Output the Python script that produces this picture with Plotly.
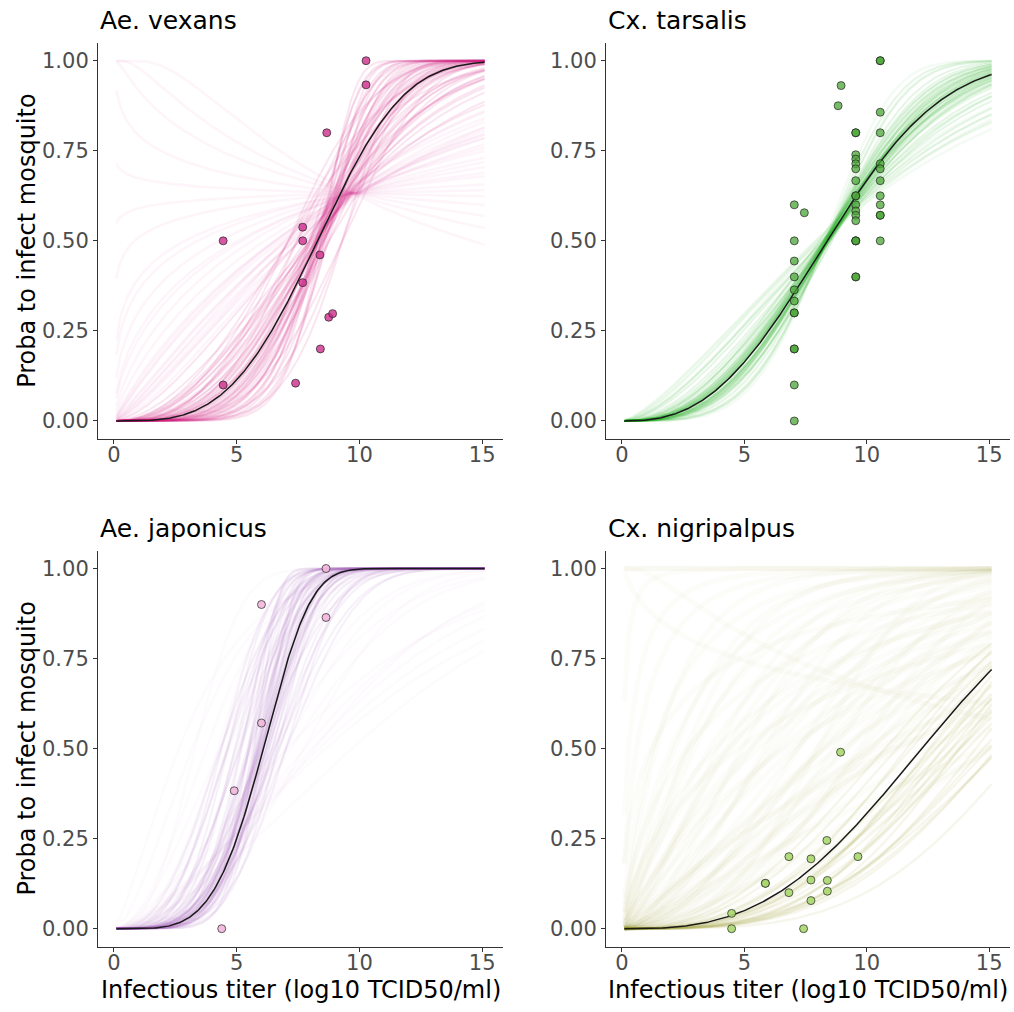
import numpy as np
import plotly.graph_objects as go

# ---------------- data ----------------
PANEL_TITLES = ["Ae. vexans", "Cx. tarsalis", "Ae. japonicus", "Cx. nigripalpus"]
X_TICKS = [0, 5, 10, 15]
Y_TICKS = [0, 0.25, 0.5, 0.75, 1.0]
Y_TICK_LABELS = ["0.00", "0.25", "0.50", "0.75", "1.00"]
X_LABEL = "Infectious titer (log10 TCID50/ml)"
Y_LABEL = "Proba to infect mosquito"
TITER_MIN, TITER_MAX = 0.1, 15.1

# observed proportions
vexans_x = [4.45, 4.45, 7.69, 7.69, 7.69, 7.40, 8.39, 8.41, 8.67, 8.75, 8.91, 10.27, 10.27]
vexans_y = [0.50, 0.10, 0.538, 0.50, 0.384, 0.105, 0.461, 0.20, 0.80, 0.288, 0.298, 1.00, 0.933]

tarsalis_x = [7.04] * 12 + [7.45, 8.83, 8.95] + [9.55] * 18 + [10.55] * 12
tarsalis_y = ([0.60, 0.50, 0.444, 0.40, 0.364, 0.333, 0.30, 0.30, 0.20, 0.20, 0.10, 0.0]
              + [0.578, 0.875, 0.931]
              + [0.80, 0.80, 0.739, 0.727, 0.714, 0.70, 0.667, 0.625, 0.625, 0.60, 0.583,
                 0.571, 0.556, 0.50, 0.50, 0.50, 0.40, 0.40]
              + [1.0, 1.0, 0.857, 0.80, 0.714, 0.70, 0.667, 0.625, 0.60, 0.571, 0.571, 0.50])

japonicus_x = [8.64, 6.01, 8.64, 6.01, 4.90, 4.39]
japonicus_y = [1.00, 0.90, 0.864, 0.571, 0.383, 0.0]

nigripalpus_x = [8.93, 8.37, 6.82, 7.72, 9.64, 5.86, 5.86, 7.72, 8.39, 6.82, 8.39, 7.72, 4.48, 4.48, 7.42]
nigripalpus_y = [0.49, 0.245, 0.20, 0.194, 0.20, 0.126, 0.126, 0.135, 0.134, 0.10, 0.104, 0.078, 0.0425, 0.0, 0.0]

# fitted dose-response (Weibull) : mean parameters (scale, shape)
vexans_fit = (9.22, 3.45)
tarsalis_fit = (9.63, 2.63)
japonicus_fit = (6.60, 4.50)
nigripalpus_fit = (13.9, 2.90)

# posterior draws (scale, shape)
vexans_core_scale = [9.2, 9.0, 9.4, 8.9, 9.5, 9.1, 8.8, 9.6, 9.3, 8.7, 9.0, 9.7, 9.4, 9.1, 8.9, 9.6, 9.8, 9.3,
                     8.6, 9.9, 9.5, 9.2, 8.8, 9.0, 9.15, 9.35, 9.05, 9.45, 8.95, 9.25, 9.55, 8.85, 9.65, 9.1,
                     9.3, 9.0, 9.4, 9.2, 8.75, 9.5, 9.6, 9.7, 9.05, 9.25, 8.9, 9.35, 9.45, 9.15,
                     8.2, 8.0, 8.4, 8.5, 10.0, 10.2, 9.9, 8.3]
vexans_core_shape = [3.4, 3.0, 3.8, 4.2, 2.8, 5.0, 5.5, 2.4, 4.5, 6.5, 7.5, 2.0, 3.2, 2.6, 3.6, 4.0, 1.8, 5.8,
                     4.8, 3.0, 1.6, 2.2, 8.5, 4.0, 3.3, 3.9, 4.4, 2.9, 5.2, 3.5, 2.5, 6.0, 2.2, 3.7,
                     4.7, 4.6, 2.7, 3.1, 7.0, 3.4, 2.1, 2.6, 5.6, 4.1, 3.3, 2.3, 3.6, 6.8,
                     2.5, 3.0, 2.2, 2.8, 5.0, 4.0, 6.0, 3.4]
vexans_tail_scale = [9.7, 9.8, 9.7, 9.6, 9.7, 9.8, 9.7, 9.7, 9.6, 9.7, 9.8, 9.7, 9.6, 9.9, 10.0, 9.5, 9.7,
                     9.4, 9.9, 9.6, 9.8, 9.5, 9.7, 10.1, 9.3, 9.6]
vexans_tail_shape = [1.3, 1.0, 0.8, 0.6, 0.45, 0.3, 0.15, 0.05, -0.05, -0.2, -0.4, -0.6, 1.15, 0.9, 1.2, 0.7,
                     -0.9, 1.4, 1.1, 1.5, 0.55, 1.0, 0.35, 1.3, 1.25, 0.95]

tarsalis_core_scale = [9.6, 9.5, 9.7, 9.4, 9.8, 9.3, 9.9, 9.6, 9.5, 9.7, 9.2, 10.0, 9.45, 9.75, 9.55, 10.1,
                       9.35, 9.65, 9.9, 9.1, 9.6, 9.8, 10.2, 9.5, 9.7, 9.4, 9.55, 9.65, 9.45, 9.75, 9.6,
                       9.85, 9.35, 9.5, 9.7, 9.6, 9.9, 9.4, 9.8, 9.55, 9.65, 10.05, 9.3]
tarsalis_core_shape = [2.6, 2.9, 2.4, 3.2, 2.2, 3.5, 2.0, 2.8, 2.5, 2.7, 3.8, 1.9, 3.0, 2.3, 2.65, 1.75,
                       3.3, 2.5, 2.1, 4.0, 3.1, 2.45, 1.65, 2.2, 3.0, 2.7, 2.55, 2.75, 2.85, 2.5, 2.35,
                       2.3, 2.95, 2.6, 2.6, 2.9, 2.35, 3.05, 2.55, 2.45, 2.8, 2.05, 3.1]
tarsalis_tail_scale = [10.3, 10.5, 10.0, 9.9, 10.4, 9.0, 10.2, 9.2]
tarsalis_tail_shape = [1.5, 1.4, 1.55, 1.7, 1.6, 4.3, 1.45, 3.9]

japonicus_core_scale = [6.6, 6.4, 6.8, 6.2, 7.0, 6.5, 6.0, 7.2, 6.3, 6.9, 5.9, 6.7, 7.4, 6.1, 6.6, 5.8, 7.1,
                        6.4, 6.0, 6.8, 5.6, 7.5, 6.5, 6.2, 6.55, 6.35, 6.75, 6.45, 6.65, 6.25, 6.85, 6.15,
                        6.95, 6.5, 6.7, 6.3, 6.6, 6.4, 7.3, 5.95, 6.05,
                        5.5, 5.2, 5.0, 5.4, 5.7, 4.9, 5.3, 5.8, 7.6, 7.8, 5.6, 5.1]
japonicus_core_shape = [4.5, 4.0, 5.0, 4.8, 4.2, 5.5, 4.3, 3.8, 6.0, 3.6, 5.2, 4.8, 4.0, 3.6, 3.4, 6.5, 5.5,
                        7.0, 8.0, 3.0, 4.5, 3.2, 3.9, 5.8, 4.6, 4.4, 4.1, 5.1, 3.9, 4.9, 4.4, 3.7,
                        5.0, 4.2, 4.7, 5.3, 3.8, 4.3, 3.5, 4.0, 5.6,
                        3.5, 3.0, 2.6, 4.0, 3.2, 3.3, 2.8, 3.0, 4.5, 3.5, 5.0, 3.8]
japonicus_tail_scale = [8.5, 9.5, 10.5, 11.0, 8.0, 9.0, 12.0, 4.5, 4.0, 5.0, 3.8, 5.2, 7.8, 3.5, 9.8, 7.5,
                        10.0, 8.8, 5.5, 4.8]
japonicus_tail_shape = [2.2, 1.8, 1.6, 1.5, 2.6, 1.5, 1.7, 2.0, 1.6, 2.5, 2.6, 1.9, 2.0, 1.3, 2.0, 2.4,
                        1.7, 2.8, 2.2, 3.0]

nigripalpus_core_scale = [14.5, 15.5, 16.5, 13.5, 15.0, 14.0, 16.0, 17.0, 13.0, 15.5, 14.5, 12.5, 16.0, 18.0,
                          13.8, 17.5, 15.0, 14.2, 16.8, 15.8, 13.2, 14.8, 17.2, 15.2]
nigripalpus_core_shape = [3.0, 3.2, 3.3, 2.7, 2.8, 3.3, 2.9, 3.5, 2.5, 2.6, 3.6, 2.4, 3.6, 3.8, 3.0, 3.0, 3.4,
                          3.1, 3.2, 2.7, 2.9, 2.5, 3.3, 3.7]
nigripalpus_tail_scale = [12, 11, 10, 9, 8, 7, 6, 5, 4, 3, 2, 1, 0.5, 0.1, 11.5, 9.5, 8, 6.5, 10, 8.5, 7, 6, 12,
                          14, 13, 5, 3.5, 0.02, 0.01, 20, 18, 4.5, 2.5, 14, 12, 16, 19, 11, 9,
                          13, 12.5, 11, 10.5, 9, 7.5, 6, 15, 16, 17, 14.5, 10, 8, 11.5, 9.5, 7.5, 5.5, 4, 3, 2]
nigripalpus_tail_shape = [2.2, 2.0, 1.8, 1.6, 1.5, 1.3, 1.2, 1.1, 1.0, 0.9, 0.8, 0.7, 0.6, 0.5, 1.6, 1.2, 1.0,
                          0.9, 2.5, 2.2, 2.0, 1.8, 1.2, 1.5, 1.9, 1.5, 1.3, 1.0, 1.5, 1.2, 2.0, 0.7, 0.5,
                          -0.3, -0.6, 1.0, 1.6, 2.8, 3.0,
                          1.4, 1.7, 1.3, 1.5, 1.1, 1.0, 0.8, 1.3, 1.5, 1.7, 1.1, 0.9, 0.7, 2.4, 2.0, 1.7, 1.4,
                          1.2, 1.1, 1.0]

# ---------------- styling ----------------
FONT = "DejaVu Sans"
W, H = 1014, 1012
PANELS = [
    dict(title=PANEL_TITLES[0], px=vexans_x, py=vexans_y, fit=vexans_fit,
         core=(vexans_core_scale, vexans_core_shape), tail=(vexans_tail_scale, vexans_tail_shape),
         rgb=(205, 30, 130), core_a=0.11, tail_a=0.045, core_w=2.0, tail_w=2.6,
         fill="rgba(205,45,140,0.8)", col=0, row=0),
    dict(title=PANEL_TITLES[1], px=tarsalis_x, py=tarsalis_y, fit=tarsalis_fit,
         core=(tarsalis_core_scale, tarsalis_core_shape), tail=(tarsalis_tail_scale, tarsalis_tail_shape),
         rgb=(30, 170, 30), core_a=0.11, tail_a=0.05, core_w=2.0, tail_w=2.6,
         fill="rgba(75,165,55,0.75)", col=1, row=0),
    dict(title=PANEL_TITLES[2], px=japonicus_x, py=japonicus_y, fit=japonicus_fit,
         core=(japonicus_core_scale, japonicus_core_shape), tail=(japonicus_tail_scale, japonicus_tail_shape),
         rgb=(165, 95, 185), core_a=0.09, tail_a=0.025, core_w=2.2, tail_w=2.6,
         fill="rgba(241,182,218,0.9)", col=0, row=1),
    dict(title=PANEL_TITLES[3], px=nigripalpus_x, py=nigripalpus_y, fit=nigripalpus_fit,
         core=(nigripalpus_core_scale, nigripalpus_core_shape), tail=(nigripalpus_tail_scale, nigripalpus_tail_shape),
         rgb=(160, 160, 40), core_a=0.09, tail_a=0.028, core_w=2.4, tail_w=5.0,
         fill="rgba(170,215,110,0.9)", col=1, row=1),
]

# pixel geometry of the four panels
X_PX = [(98, 503), (606, 1010)]
Y_PX = [(42.7, 439), (550.5, 946.7)]


def weibull(x, scale, shape):
    return 1.0 - np.exp(-np.power(x / scale, shape))


xs = np.linspace(TITER_MIN, TITER_MAX, 301)

fig = go.Figure()
layout = dict(width=W, height=H, margin=dict(l=0, r=0, t=0, b=0, pad=0),
              paper_bgcolor="white", plot_bgcolor="white", showlegend=False)
annotations = []

for i, p in enumerate(PANELS):
    n = i + 1
    xa = "x" if n == 1 else f"x{n}"
    ya = "y" if n == 1 else f"y{n}"
    r, g, b = p["rgb"]
    for (scales, shapes), a, w in ((p["tail"], p["tail_a"], p["tail_w"]), (p["core"], p["core_a"], p["core_w"])):
        for s, k in zip(scales, shapes):
            fig.add_trace(go.Scatter(x=xs, y=weibull(xs, s, k), mode="lines",
                                     line=dict(color=f"rgba({r},{g},{b},{a})", width=w),
                                     hoverinfo="skip", xaxis=xa, yaxis=ya))
    s, k = p["fit"]
    fig.add_trace(go.Scatter(x=xs, y=weibull(xs, s, k), mode="lines",
                             line=dict(color="#1a1a1a", width=1.5), xaxis=xa, yaxis=ya))
    fig.add_trace(go.Scatter(x=p["px"], y=p["py"], mode="markers",
                             marker=dict(size=8, color=p["fill"], line=dict(color="rgba(30,30,30,0.85)", width=0.8)),
                             xaxis=xa, yaxis=ya))

    x0, x1 = X_PX[p["col"]]
    y0, y1 = Y_PX[p["row"]]
    axis_common = dict(showline=True, linecolor="#333333", linewidth=1.1, ticks="outside", ticklen=4,
                       tickwidth=1, tickcolor="#333333", showgrid=False, zeroline=False,
                       tickfont=dict(family=FONT, size=21, color="#4D4D4D"), fixedrange=True)
    layout["xaxis" if n == 1 else f"xaxis{n}"] = dict(
        domain=[x0 / W, x1 / W], range=[-0.65, 15.85], tickvals=X_TICKS, anchor=ya,
        ticklabelstandoff=-7, **axis_common)
    layout["yaxis" if n == 1 else f"yaxis{n}"] = dict(
        domain=[1 - y1 / H, 1 - y0 / H], range=[-0.05, 1.05], tickvals=Y_TICKS, ticktext=Y_TICK_LABELS,
        anchor=xa, **axis_common)

    annotations.append(dict(text=p["title"], x=x0 / W, y=1 - (y0 - 22) / H, xref="paper", yref="paper",
                            xanchor="left", yanchor="middle", showarrow=False,
                            font=dict(family=FONT, size=25, color="#000000")))
    if p["col"] == 0:
        annotations.append(dict(text=Y_LABEL, x=27 / W, y=1 - (y0 + y1) / 2 / H, xref="paper", yref="paper",
                                xanchor="center", yanchor="middle", textangle=-90, showarrow=False,
                                font=dict(family=FONT, size=24, color="#000000")))
    if p["row"] == 1:
        annotations.append(dict(text=X_LABEL, x=(x0 + x1) / 2 / W, y=1 - 990 / H, xref="paper", yref="paper",
                                xanchor="center", yanchor="middle", showarrow=False,
                                font=dict(family=FONT, size=24, color="#000000")))

layout["annotations"] = annotations
fig.update_layout(**layout)
fig.write_html("out.html", config={"displayModeBar": False},
               post_script="document.body.style.margin='0px';document.body.style.overflow='hidden';")
